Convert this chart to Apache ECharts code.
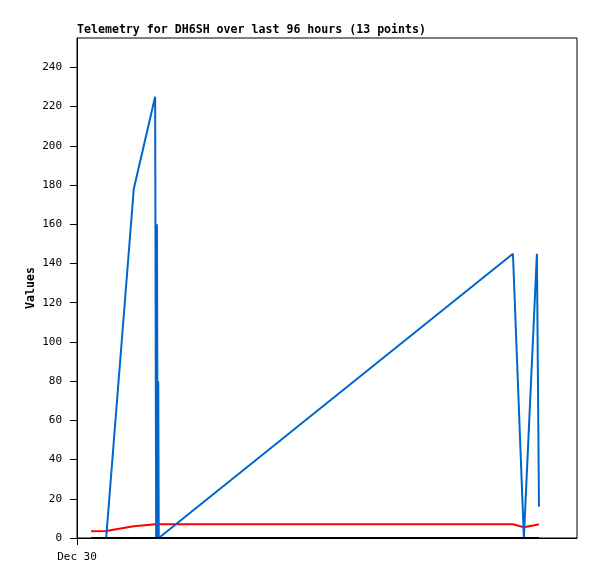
<!DOCTYPE html>
<html>
<head>
<meta charset="utf-8">
<script src="https://cdn.jsdelivr.net/npm/echarts@6/dist/echarts.min.js"></script>
<style>html,body{margin:0;padding:0;background:#fff;}#c{width:597px;height:579px;}</style>
</head>
<body>
<div id="c"></div>
<script>
// hours since start of window (Dec 30)
var hours = [2.7, 5.6, 10.9, 15.0, 15.2, 15.35, 15.5, 15.6, 15.7, 83.7, 85.8, 88.3, 88.7];
var blueVals = [0, 0, 178, 225, 0, 160, 0, 80, 0, 145, 0, 145, 16];
var redVals = [3.5, 3.6, 6.0, 7.0, 7.0, 7.0, 7.0, 7.0, 7.0, 7.0, 5.5, 6.8, 7.0];
var blackVals = [0, 0, 0, 0, 0, 0, 0, 0, 0, 0, 0, 0, 0];
var yTicks = [0, 20, 40, 60, 80, 100, 120, 140, 160, 180, 200, 220, 240];
var xLabel = 'Dec 30';
var yName = 'Values';
var titleText = 'Telemetry for DH6SH over last 96 hours (13 points)';

function pairs(vals){ return hours.map(function(h,i){ return [h, vals[i]]; }); }
var mono = 'DejaVu Sans Mono';
var chart = echarts.init(document.getElementById('c'));
chart.setOption({
  animation: false,
  backgroundColor: '#fff',
  title: {
    text: titleText, left: 72, top: 19,
    textStyle: {fontFamily: mono, fontSize: 11.6, fontWeight: 'bold', color: '#000'}
  },
  graphic: [{
    type: 'text', x: 31, y: 288, rotation: Math.PI / 2,
    style: {text: yName, font: 'bold 11.6px "DejaVu Sans Mono"', fill: '#000', align: 'center', verticalAlign: 'middle'}
  }],
  grid: {left: 77, right: 20, top: 38, bottom: 41, show: true, borderColor: '#000', borderWidth: 1, backgroundColor: '#fff'},
  xAxis: {
    type: 'value', min: 0, max: 96, interval: 96,
    axisLine: {show: true, onZero: false, lineStyle: {color: '#000', width: 1}},
    axisTick: {show: true, length: 7, lineStyle: {color: '#000'}},
    splitLine: {show: false},
    axisLabel: {
      fontFamily: mono, fontSize: 11, color: '#000', margin: 14, showMaxLabel: false,
      formatter: function(v){ return v === 0 ? xLabel : ''; }
    }
  },
  yAxis: {
    type: 'value', min: 0, max: 255, interval: 20,
    axisLine: {show: true, lineStyle: {color: '#000', width: 1}},
    axisTick: {show: true, length: 7, lineStyle: {color: '#000'}},
    splitLine: {show: false},
    axisLabel: {
      fontFamily: mono, fontSize: 11, color: '#000', margin: 15, showMaxLabel: false,
      formatter: function(v){ return yTicks.indexOf(v) >= 0 ? String(v) : ''; }
    }
  },
  series: [
    {type: 'line', data: pairs(redVals), showSymbol: false, lineStyle: {color: '#ff0000', width: 2}, itemStyle: {color: '#ff0000'}},
    {type: 'line', data: pairs(blueVals), showSymbol: false, lineStyle: {color: '#0066cc', width: 2}, itemStyle: {color: '#0066cc'}},
    {type: 'line', data: pairs(blackVals), showSymbol: false, lineStyle: {color: '#000000', width: 2}, itemStyle: {color: '#000'}}
  ]
});
</script>
</body>
</html>
